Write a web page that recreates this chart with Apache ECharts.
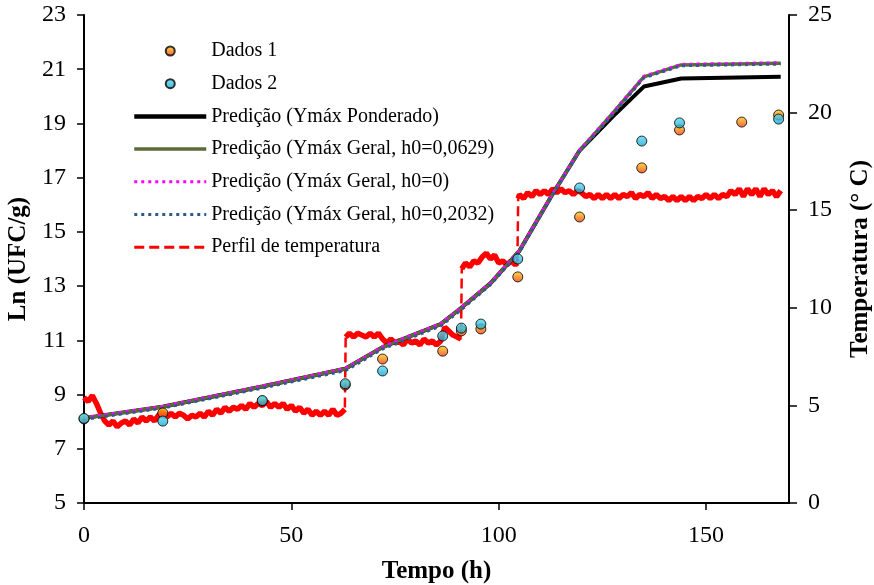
<!DOCTYPE html>
<html>
<head>
<meta charset="utf-8">
<script src="https://cdn.jsdelivr.net/npm/echarts@6/dist/echarts.min.js"></script>
<style>
html,body{margin:0;padding:0;background:#fff;overflow:hidden;}
#chart{width:874px;height:585px;}
</style>
</head>
<body>
<div id="chart"></div>
<script>
// ---- data ----
var dados1Time = [0, 19, 43, 63, 72, 86.5, 91, 95.7, 104.6, 119.5, 134.5, 143.6, 158.6, 167.5];
var dados1Ln   = [8.1, 8.32, 8.76, 9.35, 10.31, 10.6, 11.35, 11.42, 13.34, 15.55, 17.36, 18.76, 19.05, 19.31];
var dados2Time = [0, 19, 43, 63, 72, 86.5, 91, 95.7, 104.6, 119.5, 134.5, 143.6, 167.5];
var dados2Ln   = [8.12, 8.02, 8.78, 9.4, 9.87, 11.16, 11.45, 11.6, 14.0, 16.62, 18.35, 19.02, 19.16];

var predTime      = [0, 19, 43, 63, 72, 86, 91, 98, 105, 113, 119.5, 127.5, 135, 144, 168];
var predPonderado = [8.13, 8.55, 9.3, 9.95, 10.75, 11.6, 12.2, 13.1, 14.3, 16.4, 18.0, 19.25, 20.36, 20.66, 20.72];
var predGeral0629 = [8.13, 8.55, 9.3, 9.95, 10.75, 11.6, 12.2, 13.1, 14.3, 16.4, 18.0, 19.38, 20.72, 21.16, 21.22];
var predGeral0    = [8.15, 8.57, 9.32, 9.97, 10.77, 11.62, 12.22, 13.12, 14.32, 16.42, 18.02, 19.4, 20.74, 21.18, 21.24];
var predGeral2032 = [8.08, 8.5, 9.24, 9.88, 10.68, 11.53, 12.13, 13.05, 14.25, 16.36, 17.97, 19.33, 20.68, 21.13, 21.19];

var tempTime = [0,1,2,3,4,5,6,7,8,9,10,11,12,13,14,15,16,17,18,19,20,21,22,23,24,25,26,27,28,29,30,31,32,33,34,35,36,37,38,39,40,41,42,43,44,45,46,47,48,49,50,51,52,53,54,55,56,57,58,59,60,61,62,62.9,
  63.1,64,65,66,67,68,69,70,71,72,73,74,75,76,77,78,79,80,81,82,83,84,85,86,87,88,89,90,90.9,
  91.1,92,93,94,95,96,97,98,99,100,101,102,103,104,104.5,
  104.7,105,106,107,108,109,110,111,112,113,114,115,116,117,118,119,120,121,122,123,124,125,126,127,128,129,130,131,132,133,134,135,136,137,138,139,140,141,142,143,144,145,146,147,148,149,150,151,152,153,154,155,156,157,158,159,160,161,162,163,164,165,166,167,168];
var tempVal = [5.4,5.2,5.5,5.1,4.6,4.2,4.0,4.2,3.9,4.1,4.2,4.0,4.3,4.1,4.4,4.2,4.4,4.2,4.5,4.7,4.4,4.6,4.4,4.6,4.5,4.3,4.5,4.4,4.6,4.4,4.7,4.5,4.8,4.6,4.9,4.7,4.9,4.8,5.0,4.8,5.1,4.9,5.1,5.0,5.2,4.9,5.1,4.9,5.1,4.8,5.0,4.7,4.9,4.6,4.8,4.5,4.7,4.5,4.7,4.5,4.8,4.5,4.6,4.8,
  8.5,8.7,8.5,8.7,8.6,8.5,8.7,8.5,8.7,8.4,8.2,8.4,8.2,8.3,8.1,8.4,8.2,8.3,8.1,8.4,8.2,8.3,8.1,8.3,9.0,8.8,8.6,8.5,8.4,
  12.0,12.3,12.1,12.4,12.3,12.6,12.8,12.5,12.7,12.3,12.4,12.2,12.4,12.2,12.3,
  15.6,15.8,15.6,15.9,15.7,16.0,15.8,16.0,15.8,16.1,15.9,16.1,15.9,16.0,15.8,16.0,15.9,15.7,15.8,15.6,15.8,15.6,15.8,15.6,15.8,15.6,15.8,15.7,15.9,15.6,15.8,15.7,15.9,15.6,15.8,15.6,15.7,15.5,15.7,15.5,15.7,15.5,15.7,15.5,15.7,15.6,15.8,15.6,15.8,15.6,15.8,15.7,16.0,15.8,16.1,15.7,16.1,15.8,16.1,15.7,16.1,15.8,16.0,15.7,16.0];

var xTicks = [0, 50, 100, 150];
var legendNames = ['Dados 1', 'Dados 2', 'Predição (Ymáx Ponderado)', 'Predição (Ymáx Geral, h0=0,0629)', 'Predição (Ymáx Geral, h0=0)', 'Predição (Ymáx Geral, h0=0,2032)', 'Perfil de temperatura'];
var legendLineWidths = [0, 0, 4.5, 3.5, 3, 3, 3];

function pairs(xs, ys){ return xs.map(function(x,i){ return [x, ys[i]]; }); }
// solid band over the plateaus (breaks at the temperature steps)
function bandData(xs, ys){
  var out = [];
  for (var i = 0; i < xs.length; i++) {
    if (i > 0 && Math.abs(ys[i]-ys[i-1]) > 2) out.push([ (xs[i]+xs[i-1])/2, '-' ]);
    out.push([xs[i], ys[i]]);
  }
  return out;
}

var serif = '"Liberation Serif", "Times New Roman", serif';
var grad1 = {type:'linear', x:0, y:0, x2:0, y2:1, colorStops:[{offset:0, color:'#ffd21a'},{offset:1, color:'#f03a10'}]};
var grad2 = {type:'linear', x:0, y:0, x2:0, y2:1, colorStops:[{offset:0, color:'#5ee0f2'},{offset:1, color:'#1a9fd0'}]};

var legendData = legendNames.map(function(n, i){
  return i < 2 ? {name: n} : {name: n, itemStyle: {opacity: 0}, lineStyle: {width: legendLineWidths[i]}};
});

var chart = echarts.init(document.getElementById('chart'), null, {renderer:'canvas'});
chart.setOption({
  animation: false,
  backgroundColor: '#fff',
  grid: {left: 84, right: 85, top: 15, bottom: 82, containLabel: false, outerBoundsMode: 'none'},
  legend: {
    data: legendData,
    orient: 'vertical',
    left: 132, top: 41, padding: 0,
    itemWidth: 72, itemHeight: 9, itemGap: 12.7,
    textStyle: {fontFamily: serif, fontSize: 20, color: '#000', lineHeight: 19},
    selectedMode: false
  },
  xAxis: {
    type: 'value', min: 0, max: 170, interval: 50,
    name: 'Tempo (h)', nameLocation: 'middle', nameGap: 56,
    nameTextStyle: {fontFamily: serif, fontSize: 25, fontWeight: 'bold', color: '#000'},
    axisLine: {show: true, onZero: false, lineStyle: {color: '#000', width: 2}},
    axisTick: {show: true, inside: false, length: 7, customValues: xTicks, lineStyle: {color: '#000', width: 1.5}},
    axisLabel: {fontFamily: serif, fontSize: 24, color: '#000', margin: 21, customValues: xTicks,
      formatter: function(v){ return xTicks.indexOf(v) >= 0 ? String(v) : ''; }},
    splitLine: {show: false}
  },
  yAxis: [{
    type: 'value', min: 5, max: 23, interval: 2,
    name: 'Ln (UFC/g)', nameLocation: 'middle', nameGap: 52, nameRotate: 90,
    nameTextStyle: {fontFamily: serif, fontSize: 25, fontWeight: 'bold', color: '#000'},
    axisLine: {show: true, lineStyle: {color: '#000', width: 2}},
    axisTick: {show: true, inside: false, length: 7, lineStyle: {color: '#000', width: 1.5}},
    axisLabel: {fontFamily: serif, fontSize: 24, color: '#000', margin: 18},
    splitLine: {show: false}
  }, {
    type: 'value', min: 0, max: 25, interval: 5, position: 'right',
    name: 'Temperatura (° C)', nameLocation: 'middle', nameGap: 59, nameRotate: 90,
    nameTextStyle: {fontFamily: serif, fontSize: 25, fontWeight: 'bold', color: '#000'},
    axisLine: {show: true, lineStyle: {color: '#000', width: 2}},
    axisTick: {show: true, inside: false, length: 8, lineStyle: {color: '#000', width: 1.5}},
    axisLabel: {fontFamily: serif, fontSize: 24, color: '#000', margin: 19},
    splitLine: {show: false}
  }],
  series: [
    {name: 'Perfil de temperatura', type: 'line', yAxisIndex: 1, data: pairs(tempTime, tempVal),
     symbol: 'none', lineStyle: {color: '#ff0000', width: 2.5, type: [10, 5]}, itemStyle: {color: '#ff0000'}, z: 2},
    {name: 'tempBand', type: 'line', yAxisIndex: 1, data: bandData(tempTime, tempVal),
     symbol: 'none', connectNulls: false, lineStyle: {color: '#ff0000', width: 5.5}, z: 2},
    {name: 'Predição (Ymáx Ponderado)', type: 'line', data: pairs(predTime, predPonderado),
     symbol: 'none', lineStyle: {color: '#000', width: 4}, itemStyle: {color: '#000'}, z: 3},
    {name: 'Predição (Ymáx Geral, h0=0,0629)', type: 'line', data: pairs(predTime, predGeral0629),
     symbol: 'none', lineStyle: {color: '#5b6b36', width: 3.5}, itemStyle: {color: '#5b6b36'}, z: 4},
    {name: 'Predição (Ymáx Geral, h0=0)', type: 'line', data: pairs(predTime, predGeral0),
     symbol: 'none', lineStyle: {color: '#ff00ff', width: 3, type: [3, 4]}, itemStyle: {color: '#ff00ff'}, z: 5},
    {name: 'Predição (Ymáx Geral, h0=0,2032)', type: 'line', data: pairs(predTime, predGeral2032),
     symbol: 'none', lineStyle: {color: '#2f5a8c', width: 3, type: [3, 4]}, itemStyle: {color: '#2f5a8c'}, z: 5},
    {name: 'Dados 1', type: 'scatter', data: pairs(dados1Time, dados1Ln), symbol: 'circle', symbolSize: 10,
     itemStyle: {color: grad1, borderColor: '#000', borderWidth: 1}, z: 6},
    {name: 'Dados 2', type: 'scatter', data: pairs(dados2Time, dados2Ln), symbol: 'circle', symbolSize: 10,
     itemStyle: {color: grad2, borderColor: '#000', borderWidth: 1}, z: 7}
  ]
});
</script>
</body>
</html>
